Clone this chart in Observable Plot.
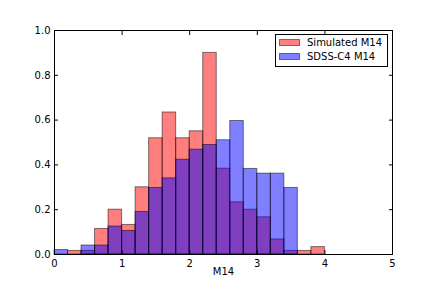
<!DOCTYPE html>
<html>
<head>
<meta charset="utf-8">
<script src="https://cdn.jsdelivr.net/npm/d3@7"></script>
<script src="https://cdn.jsdelivr.net/npm/@observablehq/plot@0.6"></script>
<style>
html,body{margin:0;padding:0;background:#fff;}
#chart{position:relative;width:436px;height:291px;}
</style>
</head>
<body>
<div id="chart"></div>
<script>
const binStarts = [0,0.2,0.4,0.6,0.8,1.0,1.2,1.4,1.6,1.8,2.0,2.2,2.4,2.6,2.8,3.0,3.2,3.4,3.6,3.8];
const binWidth = 0.2;
const simulated = [0,0.016,0.016,0.114,0.2,0.132,0.30,0.519,0.634,0.519,0.55,0.90,0.383,0.233,0.2,0.166,0.067,0.016,0.016,0.033];
const sdss = [0.02,0,0.04,0.04,0.125,0.105,0.19,0.297,0.34,0.423,0.468,0.489,0.51,0.596,0.382,0.361,0.361,0.297,0,0];
const seriesNames = ["Simulated M14","SDSS-C4 M14"];
const seriesColors = ["red","blue"];
const xTicks = [0,1,2,3,4,5];
const yTicks = [0,0.2,0.4,0.6,0.8,1.0];
const xLabel = "M14";

const rows = (vals) => binStarts.map((s,i)=>({x1:s,x2:s+binWidth,y:vals[i]})).filter(d=>d.y>0);

const plot = Plot.plot({
  width:436, height:291,
  marginLeft:54, marginRight:44, marginTop:30, marginBottom:37,
  style:{fontFamily:"DejaVu Sans", fontSize:"10px", background:"white", color:"black", overflow:"visible"},
  x:{domain:[0,5]},
  y:{domain:[0,1]},
  marks:[
    Plot.rectY(rows(simulated),{x1:"x1",x2:"x2",y:"y",fill:seriesColors[0],fillOpacity:0.5,stroke:"black",strokeOpacity:0.5,strokeWidth:1}),
    Plot.rectY(rows(sdss),{x1:"x1",x2:"x2",y:"y",fill:seriesColors[1],fillOpacity:0.5,stroke:"black",strokeOpacity:0.5,strokeWidth:1}),
    Plot.frame({stroke:"black",strokeWidth:1}),
    Plot.axisX(xTicks,{anchor:"bottom",tickSize:0,tickPadding:5,label:null,tickFormat:d=>String(d),fontSize:10}),
    Plot.axisX(xTicks,{anchor:"bottom",tickSize:-4,label:null,tickFormat:()=>""}),
    Plot.axisX(xTicks,{anchor:"top",tickSize:-4,label:null,tickFormat:()=>""}),
    Plot.axisY(yTicks,{anchor:"left",tickSize:0,tickPadding:4,label:null,tickFormat:d=>d.toFixed(1),fontSize:10}),
    Plot.axisY(yTicks,{anchor:"left",tickSize:-4,label:null,tickFormat:()=>""}),
    Plot.axisY(yTicks,{anchor:"right",tickSize:-4,label:null,tickFormat:()=>""}),
    Plot.text([xLabel],{frameAnchor:"bottom",dy:17,lineAnchor:"middle",fontSize:10})
  ]
});
document.getElementById("chart").appendChild(plot);

// legend
const svg = d3.select(plot);
const lg = svg.append("g").attr("font-family","DejaVu Sans").attr("font-size","10px").attr("text-anchor","start");
lg.append("rect").attr("x",275.5).attr("y",34.5).attr("width",112).attr("height",32).attr("fill","white").attr("stroke","black");
seriesNames.forEach((name,i)=>{
  const y = 39 + i*14;
  lg.append("rect").attr("x",279.5).attr("y",y+0.5).attr("width",20).attr("height",6)
    .attr("fill",seriesColors[i]).attr("fill-opacity",0.5).attr("stroke","black").attr("stroke-opacity",0.5);
  lg.append("text").attr("x",307).attr("y",y+3.5).attr("dy","0.35em").attr("fill","black").attr("text-anchor","start").text(name);
});
</script>
</body>
</html>
